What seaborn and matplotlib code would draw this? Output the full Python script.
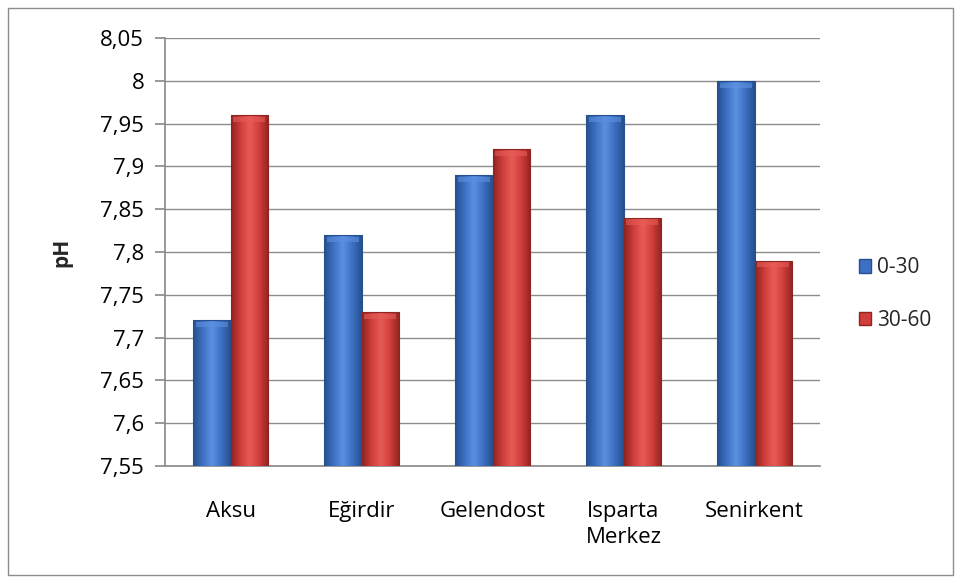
import numpy as np
import pandas as pd
import matplotlib
matplotlib.use("Agg")
import matplotlib.pyplot as plt
import seaborn as sns
from matplotlib.colors import LinearSegmentedColormap
from matplotlib.patches import Rectangle, Patch

# Soil pH by district and sampling depth (cm)
districts = ["Aksu", "Eğirdir", "Gelendost", "Isparta\nMerkez", "Senirkent"]
depths = ["0-30", "30-60"]
ph_0_30 = [7.72, 7.82, 7.89, 7.96, 8.00]
ph_30_60 = [7.96, 7.73, 7.92, 7.84, 7.79]
yticks = [7.55, 7.60, 7.65, 7.70, 7.75, 7.80, 7.85, 7.90, 7.95, 8.00, 8.05]
ytick_labels = ["7,55", "7,6", "7,65", "7,7", "7,75", "7,8", "7,85", "7,9", "7,95", "8", "8,05"]

df = pd.DataFrame({
    "district": districts * 2,
    "depth": [depths[0]] * 5 + [depths[1]] * 5,
    "pH": ph_0_30 + ph_30_60,
})

base = {"0-30": "#3d70c2", "30-60": "#d03d3a"}
dark = {"0-30": "#26508f", "30-60": "#8f2421"}
light = {"0-30": "#5c90e0", "30-60": "#e65c57"}

sns.set_theme(style="white")
plt.rcParams["font.family"] = ["Open Sans", "DejaVu Sans"]

fig = plt.figure(figsize=(9.61, 5.83), dpi=100)
ax = fig.add_axes([165 / 961, 1 - 466 / 583, (820 - 165) / 961, (466 - 38) / 583])

sns.barplot(data=df, x="district", y="pH", hue="depth", hue_order=depths,
            palette=base, width=0.57, gap=0, ax=ax, legend=False,
            edgecolor="none", linewidth=0, zorder=3)

ax.set_ylim(7.55, 8.05)
ax.set_xlim(-0.5, 4.5)

# Cylinder-like shading on each bar
patches = list(ax.patches)
for i, p in enumerate(patches):
    key = depths[i // len(districts)]
    cmap = LinearSegmentedColormap.from_list(
        key, [dark[key], base[key], light[key], base[key], dark[key]])
    x0, y0 = p.get_x(), p.get_y()
    w, h = p.get_width(), p.get_height()
    grad = np.linspace(0, 1, 64).reshape(1, -1)
    im = ax.imshow(grad, cmap=cmap, aspect="auto",
                   extent=[x0, x0 + w, 7.55, y0 + h], zorder=4)
    im.set_clip_path(p)
    # lighter bevel at the top
    ax.add_patch(Rectangle((x0 + w * 0.08, y0 + h - 0.008), w * 0.84, 0.006,
                           facecolor=light[key], edgecolor="none", alpha=0.6, zorder=5))
    ax.add_patch(Rectangle((x0, 7.55), w, y0 + h - 7.55, facecolor="none",
                           edgecolor=dark[key], linewidth=0.8, zorder=6))

ax.set_yticks(yticks)
ax.set_yticklabels(ytick_labels)
ax.yaxis.grid(True, color="#8c8c8c", linewidth=1.0, zorder=0)
ax.set_axisbelow(True)
for s in ["top", "right"]:
    ax.spines[s].set_visible(False)
ax.spines["left"].set_color("#8c8c8c")
ax.spines["bottom"].set_color("#8c8c8c")
ax.tick_params(axis="y", which="major", length=7, color="#8c8c8c", left=True,
               labelsize=16, pad=8, colors="#000000")
ax.tick_params(axis="x", length=0, labelsize=16, pad=25, colors="#000000")
for lbl in ax.get_xticklabels():
    lbl.set_linespacing(1.35)
ax.set_xlabel("")
ax.set_ylabel("pH", fontsize=15, fontweight="bold", labelpad=20)

# Legend
handles = [Patch(facecolor=base[d], edgecolor=dark[d]) for d in depths]
fig.legend(handles, depths, loc="center left", bbox_to_anchor=(840 / 961, 1 - 294 / 583),
           frameon=False, fontsize=15, handlelength=0.6, handleheight=0.6,
           handletextpad=0.3, labelspacing=1.5)

# Outer chart border
fig.add_artist(Rectangle((8 / 961, 8 / 583), 945 / 961, 567 / 583, transform=fig.transFigure,
                         facecolor="none", edgecolor="#8c8c8c", linewidth=1.0))

fig.savefig("out.png", dpi=100)
